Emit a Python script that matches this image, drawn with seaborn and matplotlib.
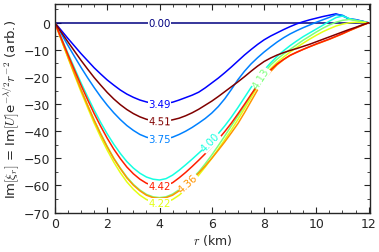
import numpy as np
import pandas as pd
import matplotlib
matplotlib.use("Agg")
import matplotlib.pyplot as plt
import seaborn as sns

# radius grid (km)
r = np.arange(0, 12.001, 0.25)

# curve labels (as drawn) and values, one value per grid point
labels = ["0.00", "3.49", "3.75", "4.00", "4.13", "4.22", "4.36", "4.42", "4.51"]

c000 = [0.0] * 49
c349 = [0, -2.9, -5.8, -8.6, -11.4, -14.0, -16.6, -18.9, -21.1, -23.0, -24.8, -26.3, -27.5, -28.5, -29.2, -29.7, -29.8,
        -29.7, -29.3, -28.5, -27.6, -26.7, -25.6, -24.0, -22.2, -20.4, -18.4, -16.3, -14.1, -11.9, -9.9, -8.0,
        -6.3, -4.9, -3.7, -2.5, -1.4, -0.4, 0.4, 1.1, 1.7, 2.3, 2.8, 3.3, 2.6, 1.4, 1.1, 0.6, 0]
c375 = [0, -4.2, -8.4, -12.5, -16.5, -20.3, -23.9, -27.3, -30.4, -33.2, -35.7, -37.9, -39.7, -41.2, -42.2, -42.8, -43.0,
        -42.8, -42.2, -41.2, -40.0, -38.6, -37.0, -35.3, -33.3, -30.9, -28.0, -24.6, -21.0, -17.9, -15.2, -12.9,
        -10.8, -8.9, -7.1, -5.5, -4.1, -2.9, -1.8, -0.8, 0.2, 1.1, 2.0, 3.0, 2.8, 1.5, 1.2, 0.6, 0]
c400 = [0, -5.7, -11.3, -16.8, -22.2, -27.3, -32.2, -36.8, -41.0, -44.8, -48.2, -51.2, -53.6, -55.5, -56.9, -57.7, -58.0,
        -57.5, -56.2, -54.4, -52.4, -50.3, -48.1, -45.9, -43.5, -40.9, -38.0, -34.8, -31.3, -27.6, -23.9, -20.5,
        -17.5, -14.8, -12.4, -10.3, -8.4, -6.7, -5.1, -3.7, -2.3, -0.9, 0.6, 1.9, 2.5, 1.6, 0.9, 0.4, 0]
c413 = [0, -6.3, -12.6, -18.7, -24.7, -30.4, -35.9, -40.9, -45.6, -49.9, -53.6, -56.9, -59.6, -61.7, -63.3, -64.2, -64.5,
        -64.2, -63.2, -61.6, -59.6, -57.4, -55.0, -52.0, -48.8, -45.3, -41.7, -38.0, -34.4, -30.8, -26.8, -22.4,
        -18.5, -15.6, -13.4, -11.5, -9.8, -8.1, -6.4, -4.9, -3.4, -2.0, -0.8, 0.2, 0.9, 1.2, 0.9, 0.5, 0]
c422 = [0, -6.5, -13.0, -19.3, -25.5, -31.3, -37.0, -42.2, -47.0, -51.4, -55.3, -58.7, -61.4, -63.6, -65.2, -66.2, -66.5,
        -66.2, -65.2, -63.6, -61.5, -59.0, -56.2, -53.2, -50.0, -46.6, -43.1, -39.5, -35.7, -31.7, -27.6, -23.5,
        -19.8, -16.9, -14.6, -12.6, -10.8, -9.1, -7.5, -6.0, -4.6, -3.3, -2.2, -1.2, -0.5, 0.0, 0.2, 0.1, 0]
c436 = [0, -6.4, -12.6, -18.8, -24.8, -30.5, -36.0, -41.1, -45.8, -50.1, -53.8, -57.2, -59.9, -62.0, -63.6, -64.5, -64.8,
        -64.5, -63.6, -62.0, -60.0, -57.8, -55.4, -52.8, -50.0, -47.0, -43.9, -40.6, -37.2, -33.2, -29.0, -24.8,
        -21.0, -18.0, -15.5, -13.6, -12.0, -10.8, -9.8, -8.8, -7.9, -7.0, -6.1, -5.1, -4.1, -3.0, -2.0, -1.0, 0]
c442 = [0, -5.9, -11.8, -17.5, -23.1, -28.4, -33.5, -38.2, -42.6, -46.6, -50.1, -53.2, -55.7, -57.7, -59.2, -60.0, -60.3,
        -60.0, -59.0, -57.2, -55.2, -53.0, -50.7, -48.3, -45.7, -43.0, -40.1, -37.0, -33.6, -30.1, -26.5, -23.1,
        -20.0, -17.4, -15.2, -13.5, -12.0, -10.9, -9.8, -8.8, -7.8, -6.9, -6.0, -5.0, -4.0, -2.9, -1.9, -0.9, 0]
c451 = [0, -3.6, -7.1, -10.5, -13.9, -17.1, -20.2, -23.0, -25.7, -28.1, -30.2, -32.0, -33.5, -34.7, -35.6, -36.1, -36.3,
        -36.2, -35.8, -35.2, -34.3, -33.2, -31.9, -30.4, -28.9, -27.2, -25.4, -23.6, -21.8, -19.9, -17.9, -16.0,
        -14.3, -13.0, -11.9, -11.0, -10.2, -9.5, -8.7, -7.9, -7.0, -6.1, -5.2, -4.3, -3.4, -2.5, -1.7, -0.8, 0]

curves = [c000, c349, c375, c400, c413, c422, c436, c442, c451]

# where each inline label sits along r (km)
label_r = [4.0, 4.0, 4.0, 5.95, 7.88, 4.0, 5.1, 4.0, 4.0]

colors = [plt.cm.jet(i / 8) for i in range(9)]

df = pd.DataFrame({
    "r": np.tile(r, len(labels)),
    "val": np.concatenate(curves),
    "curve": np.repeat(labels, len(r)),
})

sns.set_style("ticks")
plt.rcParams["font.family"] = ["DejaVu Sans"]
plt.rcParams["mathtext.fontset"] = "cm"
plt.rcParams["axes.unicode_minus"] = True

fig = plt.figure(figsize=(3.79, 2.53), dpi=100)
ax = fig.add_axes([0.145, 0.156, 0.831, 0.825])

sns.lineplot(data=df, x="r", y="val", hue="curve", palette=dict(zip(labels, colors)),
             legend=False, sort=False, linewidth=1.1, ax=ax)

ax.set_xlim(0, 12.05)
ax.set_ylim(-70, 7)
ax.set_xticks([0, 2, 4, 6, 8, 10, 12])
ax.set_yticks(range(-70, 1, 10))
ax.set_xticks(np.arange(0, 12.1, 0.5), minor=True)
ax.set_yticks(range(-70, 6, 5), minor=True)
ax.tick_params(which="both", direction="in", top=True, right=True, labelsize=9)
ax.tick_params(which="major", length=4)
ax.tick_params(which="minor", length=2)
for s in ax.spines.values():
    s.set_linewidth(1.0)

ax.set_xlabel(r"$r$ (km)", fontsize=9, labelpad=1)
ax.set_ylabel(r"Im$[\xi_r]$ = Im$[U]$e$^{-\lambda/2}r^{-2}$ (arb.)", fontsize=9.5, labelpad=1)

# inline labels like clabel: text on a white patch, rotated with the line
for lab, ys, xr, col in zip(labels, curves, label_r, colors):
    yv = np.interp(xr, r, ys)
    p1 = ax.transData.transform((xr - 0.2, np.interp(xr - 0.2, r, ys)))
    p2 = ax.transData.transform((xr + 0.2, np.interp(xr + 0.2, r, ys)))
    ang = np.degrees(np.arctan2(p2[1] - p1[1], p2[0] - p1[0]))
    ax.text(xr, yv, lab, color=col, fontsize=7.3, ha="center", va="center",
            rotation=ang, rotation_mode="anchor",
            bbox=dict(facecolor="white", edgecolor="none", pad=0.2))

fig.savefig("out.png", dpi=100)
